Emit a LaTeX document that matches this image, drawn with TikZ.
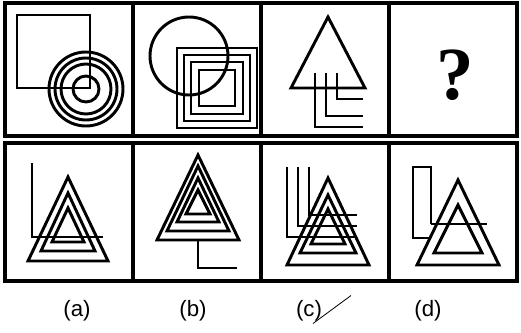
\documentclass[tikz,border=0pt]{standalone}
\usepackage{fontspec}
\setmainfont{Liberation Serif}
\newfontfamily\labfont{Liberation Sans}
\usetikzlibrary{positioning}

\begin{document}
\begin{tikzpicture}[x=0.03cm, y=-0.03cm,
  cell/.style={draw, line width=2.6pt, outer sep=0pt, inner sep=0pt, minimum width=3.84cm},
  toprow/.style={cell, minimum height=3.99cm},
  botrow/.style={cell, minimum height=4.14cm},
  fig/.style={line width=2.5pt, line join=miter},
  lab/.style={font=\labfont\fontsize{19}{21}\selectfont},
  pen/.style={line width=0.7pt}]
  \useasboundingbox (0,0) rectangle (521,333);

  % Question row
  \node[toprow] (q1) at (69,69.5) {};
  \node[toprow, right=0pt of q1] (q2) {};
  \node[toprow, right=0pt of q2] (q3) {};
  \node[toprow, right=0pt of q3] (q4) {};
  % Answer row
  \node[botrow, below=0.21cm of q1] (a1) {};
  \node[botrow, right=0pt of a1] (a2) {};
  \node[botrow, right=0pt of a2] (a3) {};
  \node[botrow, right=0pt of a3] (a4) {};

  % square and rings
  \draw[fig] (17,15) rectangle (90,88);
  \foreach \r in {37,31,25,13}
    \draw[fig] (86,89) circle (\r);
  % circle and squares
  \draw[fig] (189,56) circle (39);
  \foreach \s in {40,33,26,18}
    \draw[fig] ({217-\s},{88-\s}) rectangle ({217+\s},{88+\s});
  % triangle and Ls
  \draw[fig] (328,17) -- (291,88) -- (365,88) -- cycle;
  \foreach \vx/\hy in {315/127, 326/116, 337/99}
    \draw[fig] (\vx,73) -- (\vx,\hy) -- (363,\hy);
  \node[font=\fontsize{64}{64}\selectfont\bfseries] (qm) at (455,75) {?};

  % (a)
  \draw[fig] (32,163) -- (32,237) -- (103,237);
  \foreach \t/\b/\w in {177/261/40, 193/251/27, 208/242/16}
    \draw[fig] (68,\t) -- ({68-\w},\b) -- ({68+\w},\b) -- cycle;
  % (b)
  \foreach \t/\b/\w in {155/240/41, 166/231/31, 178/222/21, 190/214/12}
    \draw[fig] (198,\t) -- ({198-\w},\b) -- ({198+\w},\b) -- cycle;
  \draw[fig] (198,240) -- (198,268) -- (237,268);
  % (c)
  \foreach \t/\b/\w in {178/265/41, 195/253/28, 209/244/17}
    \draw[fig] (328,\t) -- ({328-\w},\b) -- ({328+\w},\b) -- cycle;
  \foreach \vx/\hy in {287/237, 298/226, 309/215}
    \draw[fig] (\vx,167) -- (\vx,\hy) -- (357,\hy);
  % (d)
  \foreach \t/\b/\w in {180/265/41, 205/253/24}
    \draw[fig] (458,\t) -- ({458-\w},\b) -- ({458+\w},\b) -- cycle;
  \draw[fig] (431,224) -- (431,167) -- (413,167) -- (413,238) -- (431,238);
  \draw[fig] (431,224) -- (487,224);

  % labels
  \node[lab] (la) at (77,311) {(a)};
  \node[lab] (lb) at (193,311) {(b)};
  \node[lab] (lc) at (309,311) {(c)};
  \node[lab] (ld) at (428,311) {(d)};
  \draw[pen] (lc.south) ++(4,-2) -- ++(38,-28);
\end{tikzpicture}
\end{document}
